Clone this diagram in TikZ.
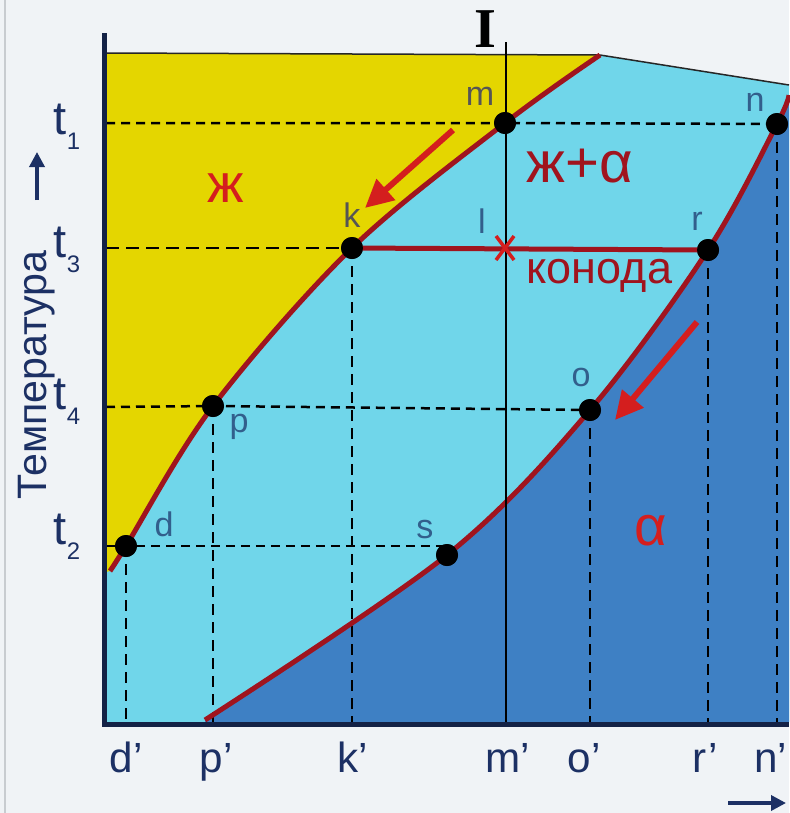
\documentclass[tikz,border=0pt]{standalone}
\usepackage{fontspec}
\setmainfont{Liberation Sans}
\newfontfamily\serifbold{Liberation Serif}
\usetikzlibrary{arrows.meta,calc}
\definecolor{bgc}{RGB}{240,243,246}
\definecolor{liqc}{RGB}{228,214,0}
\definecolor{lbluec}{RGB}{112,214,234}
\definecolor{dbluec}{RGB}{62,128,196}
\definecolor{curvec}{RGB}{160,20,30}
\definecolor{arrc}{RGB}{212,30,30}
\definecolor{navyc}{RGB}{28,48,100}
\definecolor{labc}{RGB}{50,95,140}
\definecolor{labdc}{RGB}{85,85,85}
\definecolor{framec}{RGB}{200,204,208}
\begin{document}
\begin{tikzpicture}[x=0.1mm,y=-0.1mm,
  dot/.style={circle,fill=black,inner sep=0pt,minimum size=2.2mm},
  guide/.style={black,line width=0.25mm,dash pattern=on 0.9mm off 0.6mm},
  guidelong/.style={black,line width=0.25mm,dash pattern=on 1.3mm off 0.7mm},
  vguide/.style={black,line width=0.25mm,dash pattern=on 1.1mm off 0.7mm},
  phaseline/.style={curvec,line width=0.5mm},
  redarrow/.style={arrc,line width=0.6mm,-{Triangle[length=2.8mm,width=2.7mm]}},
  navyarrow/.style={navyc,line width=0.35mm,-{Triangle[length=1.5mm,width=1.5mm]}},
  ptlab/.style={labc,font=\fontsize{9.7}{10}\selectfont,inner sep=0pt},
  tlab/.style={navyc,font=\fontsize{13.4}{14}\selectfont,anchor=base west,inner sep=0pt},
  xlab/.style={navyc,font=\fontsize{12}{13}\selectfont,anchor=base,inner sep=0pt},
  phaselab/.style={curvec,inner sep=0pt}
]
\useasboundingbox (0,0) rectangle (789,813);
\fill[bgc] (0,0) rectangle (789,813);
\draw[framec,line width=0.2mm] (5,0) -- (5,813);

% regions
\fill[lbluec] (106,53) -- (600,55) -- (789,85) -- (789,722) -- (106,722) -- cycle;
\fill[liqc] (106,572) -- plot[smooth,tension=0.55] coordinates {(110,571) (126,546) (213,406) (352,248) (505,123) (600,55)} -- (106,53) -- cycle;
\fill[dbluec] (205,722) -- plot[smooth,tension=0.55] coordinates {(205,720) (447,555) (590,410) (708,250) (777,124) (789,95)} -- (789,722) -- cycle;

% top boundary
\draw[black!85,line width=0.15mm] (106,53) -- (600,55) -- (789,85);

% points
\coordinate (O) at (106,722);
\coordinate (T1) at (106,123);
\coordinate (T3) at (106,248);
\coordinate (T4) at (106,407);
\coordinate (T2) at (106,546);
\node[dot] (m) at (505,123) {};
\node[dot] (n) at (777,124) {};
\node[dot] (k) at (352,248) {};
\node[dot] (r) at (708,250) {};
\node[dot] (p) at (213,406) {};
\node[dot] (o) at (590,410) {};
\node[dot] (d) at (126,546) {};
\node[dot] (s) at (447,555) {};
\coordinate (l) at (505,248);

% guide lines
\draw[guide] (T1) -- (m.center) -- (n.center);
\draw[guidelong] (T3) -- (k.center);
\draw[guide] (T4) -- (p.center) -- (o.center);
\draw[guide] (T2) -- (d.center) -- (d.center -| s.center);
\foreach \q in {d,p,k,o,r,n} \draw[vguide] (\q.center) -- (\q.center |- O);

% phase curves
\draw[phaseline] plot[smooth,tension=0.55] coordinates {(110,571) (126,546) (213,406) (352,248) (505,123) (600,55)};
\draw[phaseline] plot[smooth,tension=0.55] coordinates {(205,720) (447,555) (590,410) (708,250) (777,124) (789,95)};
\draw[phaseline] (k.center) -- (r.center);

% vertical line I
\coordinate (Itop) at (506,42);
\draw[black,line width=0.2mm] (Itop) -- (506,722);
\node[font=\serifbold\bfseries\fontsize{16}{17}\selectfont,anchor=base,inner sep=0pt] (Ilab) at (485,47) {I};

% star at l
\draw[arrc,line width=0.35mm] ($(l)+(-9,-12)$) -- ($(l)+(9,12)$);
\draw[arrc,line width=0.35mm] ($(l)+(-9,12)$) -- ($(l)+(9,-12)$);

% axes
\draw[navyc!70!black,line width=0.5mm] (104,33) -- (104,724) -- (789,724);

% dots on top
\foreach \q in {m,n,k,r,p,o,d,s} \fill (\q) circle (11);

% red arrows
\coordinate (a1s) at (453,130);
\coordinate (a1e) at (365,208);
\coordinate (a2s) at (697,322);
\coordinate (a2e) at (615,420);
\draw[redarrow] (a1s) -- (a1e);
\draw[redarrow] (a2s) -- (a2e);

% point labels
\node[ptlab,text=labdc] (lm) at (480,96) {m};
\node[ptlab] (ln) at (755,102) {n};
\node[ptlab,text=labdc] (lk) at (352,215) {k};
\node[ptlab] (ll) at (482,221) {l};
\node[ptlab] (lr) at (697,221) {r};
\node[ptlab] (lo) at (581,377) {o};
\node[ptlab] (lp) at (239,427) {p};
\node[ptlab] (ld) at (164,524) {d};
\node[ptlab] (ls) at (425,530) {s};

% phase labels
\node[phaselab,text=arrc,font=\fontsize{15.5}{16}\selectfont] (zh) at (226,188) {ж};
\node[phaselab,font=\fontsize{16.5}{17}\selectfont,anchor=base west] (zha) at (526,182) {ж+α};
\node[phaselab,font=\fontsize{12.8}{13}\selectfont,anchor=base west] (kon) at (526,283) {конода};
\node[phaselab,text=arrc,font=\fontsize{16}{17}\selectfont] (alp) at (651,531) {α};

% temperature labels
\node[tlab] (t1) at (53,134) {t\raisebox{-1.5mm}{\fontsize{6.8}{7}\selectfont 1}};
\node[tlab] (t3) at (53,257) {t\raisebox{-1.5mm}{\fontsize{6.8}{7}\selectfont 3}};
\node[tlab] (t4) at (53,409) {t\raisebox{-1.5mm}{\fontsize{6.8}{7}\selectfont 4}};
\node[tlab] (t2) at (53,544) {t\raisebox{-1.5mm}{\fontsize{6.8}{7}\selectfont 2}};
\node[navyc,font=\fontsize{11.7}{12}\selectfont,rotate=90,anchor=base,inner sep=0pt] (temp) at (46,375) {Температура};
\coordinate (ua1) at (37,200);
\coordinate (ua2) at (37,152);
\draw[navyarrow] (ua1) -- (ua2);

% composition labels
\node[xlab] (xd) at (126,772) {d’};
\node[xlab] (xp) at (216,772) {p’};
\node[xlab] (xk) at (353,772) {k’};
\node[xlab] (xm) at (508,772) {m’};
\node[xlab] (xo) at (584,772) {o’};
\node[xlab] (xr) at (705,772) {r’};
\node[xlab,anchor=base east] (xn) at (788,772) {n’};
\coordinate (ra1) at (728,803);
\coordinate (ra2) at (786,803);
\draw[navyarrow] (ra1) -- (ra2);
\end{tikzpicture}
\end{document}
